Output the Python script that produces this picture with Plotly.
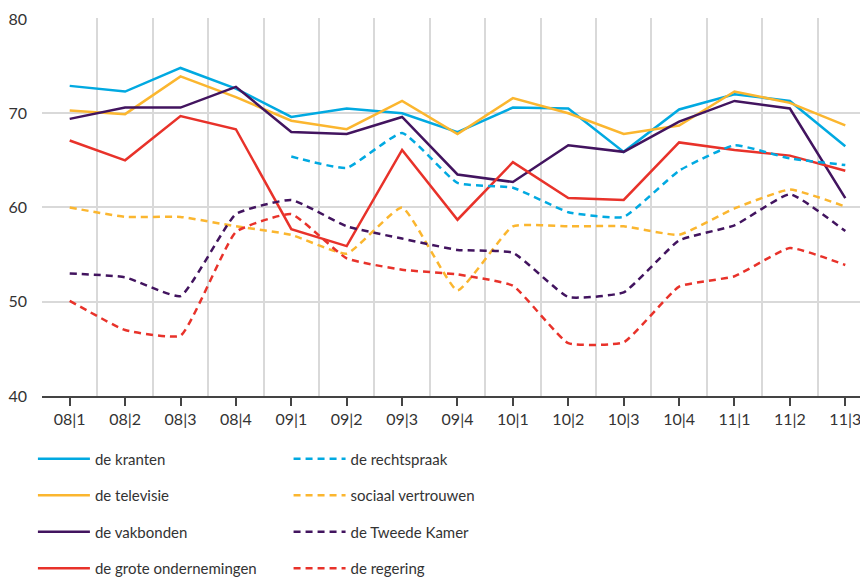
import plotly.graph_objects as go

kwartalen = ['08|1', '08|2', '08|3', '08|4', '09|1', '09|2', '09|3', '09|4',
             '10|1', '10|2', '10|3', '10|4', '11|1', '11|2', '11|3']

kranten = [72.9, 72.3, 74.8, 72.6, 69.6, 70.5, 70.0, 68.0, 70.6, 70.5, 65.9, 70.4, 72.0, 71.3, 66.5]
televisie = [70.3, 69.9, 73.9, 71.7, 69.2, 68.3, 71.3, 67.8, 71.6, 70.0, 67.8, 68.7, 72.3, 71.1, 68.7]
vakbonden = [69.4, 70.6, 70.6, 72.8, 68.0, 67.8, 69.6, 63.5, 62.7, 66.6, 65.9, 69.1, 71.3, 70.5, 61.0]
ondernemingen = [67.1, 65.0, 69.7, 68.3, 57.7, 55.9, 66.1, 58.7, 64.8, 61.0, 60.8, 66.9, 66.1, 65.5, 63.9]
rechtspraak = [None, None, None, None, 65.4, 64.2, 67.9, 62.6, 62.1, 59.5, 59.0, 63.9, 66.6, 65.2, 64.5]
sociaal = [60.0, 59.0, 59.0, 58.0, 57.1, 55.1, 60.0, 51.2, 58.0, 58.0, 58.0, 57.1, 59.9, 61.9, 60.1]
tweede_kamer = [53.0, 52.6, 50.6, 59.3, 60.8, 58.0, 56.7, 55.5, 55.2, 50.5, 51.0, 56.5, 58.1, 61.4, 57.5]
regering = [50.1, 47.0, 46.4, 57.4, 59.3, 54.6, 53.4, 52.9, 51.7, 45.6, 45.7, 51.6, 52.7, 55.7, 53.9]

blauw = '#01a9e1'
geel = '#fbb62f'
paars = '#42145f'
rood = '#e8322a'

x = list(range(len(kwartalen)))

series = [
    ('de kranten', kranten, blauw, 'solid', 'legend'),
    ('de televisie', televisie, geel, 'solid', 'legend'),
    ('de vakbonden', vakbonden, paars, 'solid', 'legend'),
    ('de grote ondernemingen', ondernemingen, rood, 'solid', 'legend'),
    ('de rechtspraak', rechtspraak, blauw, '7px,5px', 'legend2'),
    ('sociaal vertrouwen', sociaal, geel, '7px,5px', 'legend2'),
    ('de Tweede Kamer', tweede_kamer, paars, '7px,5px', 'legend2'),
    ('de regering', regering, rood, '7px,5px', 'legend2'),
]

fig = go.Figure()
for naam, waarden, kleur, dash, leg in series:
    shape = 'linear' if dash == 'solid' else 'spline'
    fig.add_trace(go.Scatter(x=x, y=waarden, mode='lines', name=naam, legend=leg,
                             legendgroup=naam,
                             line=dict(color=kleur, width=2.5, dash=dash, shape=shape,
                                       smoothing=0.4)))

legend_style = dict(font=dict(size=15, color='#333333'), bgcolor='rgba(0,0,0,0)',
                    tracegroupgap=14, itemwidth=52, yanchor='top', y=-0.123)

# pagina heeft 8px body-marge; figuur iets groter zodat de legenda past
fig.update_layout(
    width=868, height=600,
    margin=dict(l=34, r=8, t=10, b=212),
    plot_bgcolor='white', paper_bgcolor='white',
    font=dict(family='Lato', size=16, color='#333333'),
    showlegend=True,
    legend=dict(x=-0.011, xanchor='left', **legend_style),
    legend2=dict(x=0.2985, xanchor='left', **legend_style),
    xaxis=dict(
        range=[-0.5, 14.41],
        tickvals=x, ticktext=kwartalen,
        showgrid=False, zeroline=False,
        showline=True, linecolor='#444444', linewidth=1.5,
        ticks='outside', ticklen=8, tickcolor='#444444', tickwidth=1.5,
        minor=dict(tickvals=[i - 0.5 for i in x], showgrid=True,
                   gridcolor='#d9d9d9', gridwidth=1.5, ticks=''),
        automargin=False,
        fixedrange=True,
    ),
    yaxis=dict(
        range=[40, 80.1], tickvals=[40, 50, 60, 70, 80],
        showgrid=True, gridcolor='#d9d9d9', gridwidth=1.5,
        zeroline=False, showline=False,
        ticklabelstandoff=14, ticklabeloverflow='allow',
        automargin=False,
        fixedrange=True,
    ),
)

fig.write_html("out.html")
